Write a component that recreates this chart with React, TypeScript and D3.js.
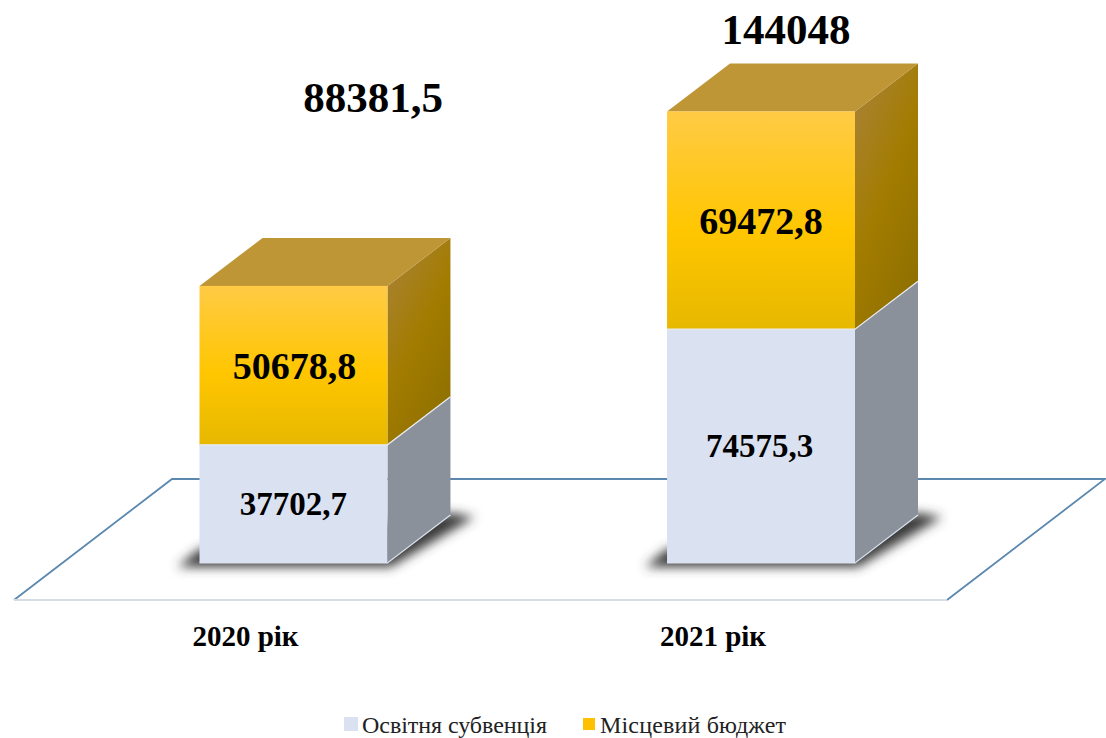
import React from "react";
import * as d3 from "d3";

const years = ["2020 рік", "2021 рік"];
const subvention = [37702.7, 74575.3];
const localBudget = [50678.8, 69472.8];
const totals = ["88381,5", "144048"];
const subventionLabels = ["37702,7", "74575,3"];
const localLabels = ["50678,8", "69472,8"];
const legendNames = ["Освітня субвенція", "Місцевий бюджет"];

const FONT = "'Liberation Serif', 'Times New Roman', serif";
const baseY = 563;
const depthX = 63;
const depthY = -48;

const x = d3.scaleBand<string>().domain(years).range([199.5, 855]).paddingInner(0.598).paddingOuter(0);
const y = d3.scaleLinear().domain([0, 100000]).range([baseY, baseY - 313.5]);
const line = d3.line();
const poly = (pts: [number, number][]) => line(pts) + "Z";

function Block({ x0, x1, yTop, yBot, front, side, top, edge }: any) {
  return (
    <g>
      <path d={poly([[x1, yTop], [x1 + depthX, yTop + depthY], [x1 + depthX, yBot + depthY], [x1, yBot]])} fill={side} />
      {top && <path d={poly([[x0, yTop], [x0 + depthX, yTop + depthY], [x1 + depthX, yTop + depthY], [x1, yTop]])} fill={top} />}
      <rect x={x0} y={yTop} width={x1 - x0} height={yBot - yTop} fill={front} />
      <path d={`M${x0},${yBot}H${x1}L${x1 + depthX},${yBot + depthY}`} fill="none" stroke={edge} strokeWidth={1.2} />
    </g>
  );
}

export default function App() {
  return (
    <svg width={1106} height={738} style={{ position: "absolute", left: 0, top: 0, background: "#fff" }}>
      <defs>
        <linearGradient id="orangeFront" x1="0" y1="0" x2="0" y2="1">
          <stop offset="0" stopColor="#FFCB45" />
          <stop offset="0.55" stopColor="#FFC600" />
          <stop offset="1" stopColor="#E6B800" />
        </linearGradient>
        <linearGradient id="orangeSide" x1="0.15" y1="0" x2="0.75" y2="1">
          <stop offset="0" stopColor="#A98236" />
          <stop offset="0.5" stopColor="#A27C00" />
          <stop offset="1" stopColor="#8E6F00" />
        </linearGradient>
        <filter id="shadowBlur" x="-20%" y="-30%" width="140%" height="160%">
          <feGaussianBlur stdDeviation="5.5" />
        </filter>
      </defs>

      <path d={poly([[14, 600], [947, 600], [1105, 479], [172, 479]])} fill="#fff" stroke="none" />
      <path d="M14,600L172,479H1105L947,600" fill="none" stroke="#5B88AE" strokeWidth={1.8} />
      <path d="M14,600H947" fill="none" stroke="#D5DCE6" strokeWidth={2} />

      {years.map((yr) => {
        const x0 = x(yr)!;
        const x1 = x0 + x.bandwidth();
        return (
          <path
            key={yr}
            d={poly([[x0 - 22, baseY + 4], [x1 + 3, baseY + 4], [x1 + depthX + 24, baseY + depthY + 2], [x1 + depthX, baseY + depthY - 2], [x0, baseY - 14]])}
            fill="#3a3a3a"
            filter="url(#shadowBlur)"
          />
        );
      })}

      {years.map((yr, i) => {
        const x0 = x(yr)!;
        const x1 = x0 + x.bandwidth();
        const yMid = y(subvention[i]);
        const yTop = y(subvention[i] + localBudget[i]);
        const cx = (x0 + x1) / 2;
        return (
          <g key={yr} fontFamily={FONT} fontWeight="bold" textAnchor="middle" fill="#000">
            <Block x0={x0} x1={x1} yTop={yMid} yBot={baseY} front="#DAE1F1" side="#8A919B" edge="#DDE4F0" />
            <Block x0={x0} x1={x1} yTop={yTop} yBot={yMid} front="url(#orangeFront)" side="url(#orangeSide)" top="#BF9636" edge="#E8EDF5" />
            <text x={cx - (i === 0 ? 0 : 1.5)} y={(yMid + baseY) / 2 + 11} fontSize={33}>{subventionLabels[i]}</text>
            <text x={cx + (i === 0 ? 1 : 0)} y={(yTop + yMid) / 2 + 14} fontSize={38}>{localLabels[i]}</text>
            <text x={cx - (i === 0 ? 48 : 48)} y={645.5} fontSize={29}>{yr}</text>
          </g>
        );
      })}

      <text x={373} y={112} fontFamily={FONT} fontWeight="bold" fontSize={43} textAnchor="middle">{totals[0]}</text>
      <text x={786} y={44} fontFamily={FONT} fontWeight="bold" fontSize={43} textAnchor="middle">{totals[1]}</text>

      <rect x={344} y={717} width={14} height={14} fill="#DAE1F1" />
      <text x={362} y={733} fontFamily={FONT} fontSize={24} textLength={185} fill="#222">{legendNames[0]}</text>
      <rect x={583} y={718} width={12} height={12} fill="#FFC000" />
      <text x={600} y={733} fontFamily={FONT} fontSize={24} textLength={186} fill="#222">{legendNames[1]}</text>
    </svg>
  );
}
